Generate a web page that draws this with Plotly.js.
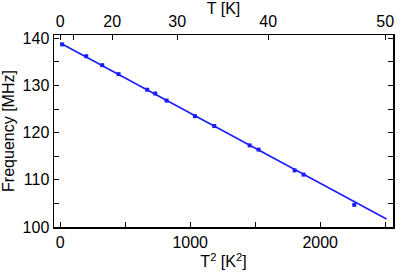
<!DOCTYPE html>
<html><head><meta charset="utf-8">
<script src="https://cdn.plot.ly/plotly-3.0.1.min.js"></script>
<style>html,body{margin:0;padding:0;background:#fff}#c{width:416px;height:273px}</style>
</head><body><div id="c"></div>
<script>
// Measured data: T^2 [K^2] vs Frequency [MHz]
const tSquared = [15, 200, 323, 449, 669, 731, 818, 1036, 1185, 1457, 1526, 1803, 1872, 2262];
const frequency = [138.7, 136.2, 134.3, 132.4, 129.1, 128.3, 126.8, 123.5, 121.4, 117.3, 116.4, 112.0, 111.1, 104.7];
// Linear fit endpoints
const fitX = [0, 2510];
const fitY = [139.0, 101.7];
// Top axis (T [K]) tick positions in T^2 units and their labels
const topTickVals = [0, 100, 400, 900, 1600, 2500];
const topTickText = ['0', '', '20', '30', '40', '50'];

const blue = '#1a1aff';
const font = {family: 'Liberation Sans, Arial, sans-serif', size: 16, color: '#000'};
const xr = [-48, 2560];

Plotly.newPlot('c', [
  {x: fitX, y: fitY, mode: 'lines', line: {color: blue, width: 1.5}, showlegend: false, hoverinfo: 'skip'},
  {x: tSquared, y: frequency, mode: 'markers', marker: {color: blue, size: 4, symbol: 'square'}, showlegend: false},
  {x: [0], y: [null], xaxis: 'x2', mode: 'markers', showlegend: false, hoverinfo: 'skip'}
], {
  width: 416, height: 273,
  margin: {l: 54, r: 23, t: 35, b: 46},
  paper_bgcolor: '#fff', plot_bgcolor: '#fff',
  font: font,
  xaxis: {
    range: xr, showgrid: false, zeroline: false,
    showline: true, linecolor: '#000', linewidth: 1.5, mirror: false,
    ticks: 'inside', ticklen: 5, tickwidth: 1, tickcolor: '#000',
    dtick: 1000, tick0: 0,
    minor: {dtick: 500, tick0: 0, ticks: 'inside', ticklen: 5, tickwidth: 1, tickcolor: '#000', showgrid: false},
    tickfont: font,
    title: {text: 'T<sup>2</sup> [K<sup>2</sup>]', font: font, standoff: 4}
  },
  xaxis2: {
    overlaying: 'x', side: 'top', range: xr, showgrid: false, zeroline: false,
    showline: true, linecolor: '#000', linewidth: 1.5,
    ticks: 'inside', ticklen: 5, tickwidth: 1, tickcolor: '#000',
    tickmode: 'array', tickvals: topTickVals, ticktext: topTickText,
    tickfont: font,
    title: {text: 'T [K]', font: font, standoff: 2}
  },
  yaxis: {
    range: [100, 140.7], showgrid: false, zeroline: false,
    showline: true, linecolor: '#000', linewidth: 1.5, mirror: 'ticks',
    ticks: 'inside', ticklen: 5, tickwidth: 1, tickcolor: '#000',
    dtick: 10, tick0: 100,
    minor: {dtick: 5, tick0: 100, ticks: 'inside', ticklen: 5, tickwidth: 1, tickcolor: '#000', showgrid: false},
    tickfont: font,
    title: {text: 'Frequency [MHz]', font: font, standoff: 4}
  }
}, {displayModeBar: false, staticPlot: true});
</script></body></html>
